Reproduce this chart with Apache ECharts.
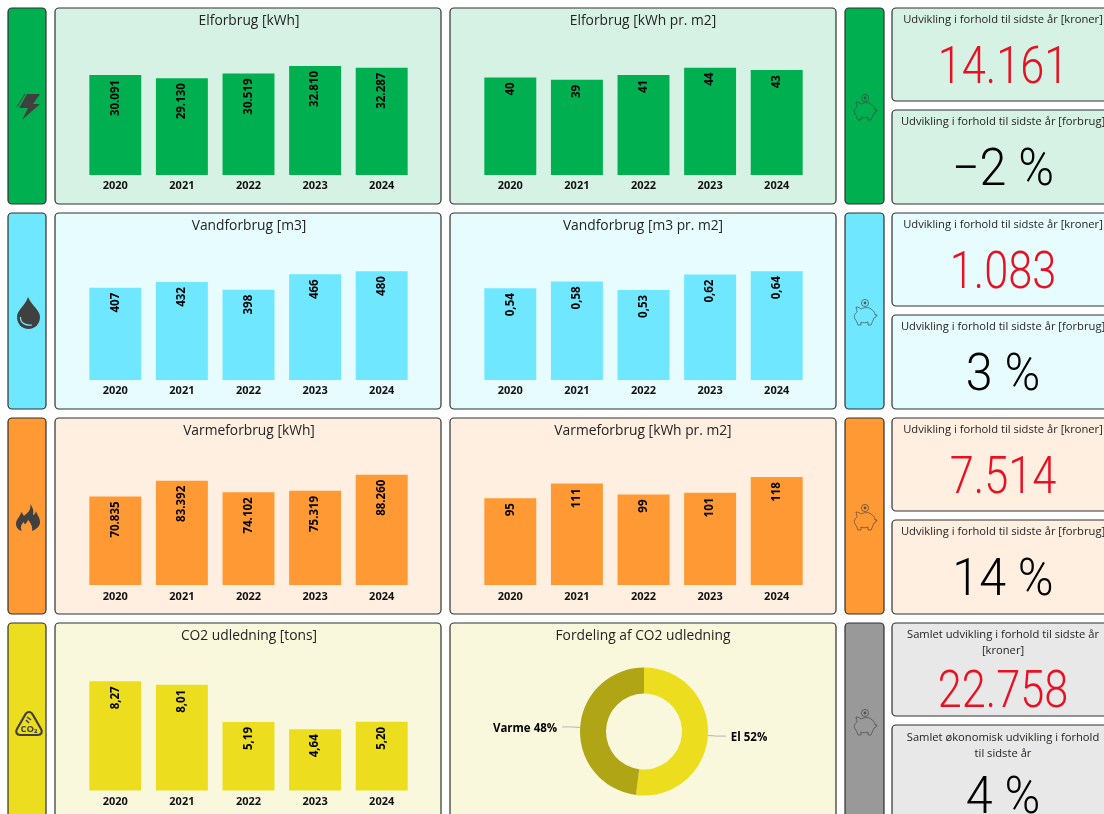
<!DOCTYPE html>
<html>
<head>
<meta charset="utf-8">
<title>Forbrug</title>
<style>
html, body { margin: 0; padding: 0; background: #fff; overflow: hidden; }
#main { width: 1104px; height: 814px; }
</style>
<script src="https://cdn.jsdelivr.net/npm/echarts@6/dist/echarts.min.js"></script>
</head>
<body>
<div id="main"></div>
<script>
// data
var years = ['2020', '2021', '2022', '2023', '2024'];
var elKwh = [30091, 29130, 30519, 32810, 32287];
var elM2 = [40, 39, 41, 44, 43];
var waterM3 = [407, 432, 398, 466, 480];
var waterM2 = [0.54, 0.58, 0.53, 0.62, 0.64];
var heatKwh = [70835, 83392, 74102, 75319, 88260];
var heatM2 = [95, 111, 99, 101, 118];
var co2Tons = [8.27, 8.01, 5.19, 4.64, 5.20];
var co2Names = ['El', 'Varme'];
var co2Share = [52, 48];

var thousands = function (v) { return String(v).replace(/\B(?=(\d{3})+$)/g, '.'); };
var decimals = function (v) { return v.toFixed(2).replace('.', ','); };

var FONT = '"Open Sans", "Noto Sans", sans-serif';
var BORDER = '#303030';
var ICON = '#404040';

var rows = [
  { top: 8, base: 175, gap: 5, color: '#00B050', bg: '#D6F2E5', kroner: '14.161', pct: '−2 %',
    left: { title: 'Elforbrug [kWh]', data: elKwh, max: 40000, h: 133, fmt: thousands },
    right: { title: 'Elforbrug [kWh pr. m2]', data: elM2, max: 50, h: 122, fmt: thousands } },
  { top: 213, base: 380, gap: 5, color: '#6FE7FF', bg: '#E7FCFF', kroner: '1.083', pct: '3 %',
    left: { title: 'Vandforbrug [m3]', data: waterM3, max: 600, h: 136, fmt: thousands },
    right: { title: 'Vandforbrug [m3 pr. m2]', data: waterM2, max: 0.8, h: 136, fmt: decimals } },
  { top: 418, base: 585, gap: 6, color: '#FF9933', bg: '#FFEFE0', kroner: '7.514', pct: '14 %',
    left: { title: 'Varmeforbrug [kWh]', data: heatKwh, max: 100000, h: 125, fmt: thousands },
    right: { title: 'Varmeforbrug [kWh pr. m2]', data: heatM2, max: 140, h: 128, fmt: thousands } },
  { top: 623, base: 790.5, gap: 6, color: '#ECDD1F', bg: '#F9F8DC', kroner: '22.758', pct: '4 %',
    left: { title: 'CO2 udledning [tons]', data: co2Tons, max: 10, h: 132, fmt: decimals },
    right: { title: 'Fordeling af CO2 udledning' } }
];

var graphics = [];
var grids = [], xAxes = [], yAxes = [], series = [];
var iconCount = 0;

function box(x, y, w, h, fill, stroke) {
  graphics.push({
    type: 'rect', shape: { x: x, y: y, width: w, height: h, r: 4 },
    style: { fill: fill, stroke: stroke || BORDER, lineWidth: 1.2 }
  });
}

function text(str, x, y, size, color) {
  graphics.push({
    type: 'text', x: x, y: y,
    style: { text: str, fill: color || '#252423', font: size + 'px ' + FONT, textAlign: 'center', textVerticalAlign: 'middle' }
  });
}

// the card numbers are a narrow light face, squeeze Roboto to get near it
function bigNumber(str, y, color, squeeze) {
  graphics.push({
    type: 'text', x: 1003, y: y, scaleX: squeeze,
    style: { text: str, fill: color, font: '300 51px Roboto', textAlign: 'center', textVerticalAlign: 'middle' }
  });
}

// graphic has no plain 'path' type, so each icon gets its own registered shape
function icon(path, x, y, fill, stroke, lw, opacity) {
  var name = 'icon' + (iconCount++);
  echarts.graphic.registerShape(name, echarts.graphic.extendPath(path));
  graphics.push({
    type: name, x: x, y: y,
    style: { fill: fill, stroke: stroke, lineWidth: lw || 0, opacity: opacity || 1 }
  });
}

function barPanel(p, left, base, color, gap) {
  var i = grids.length;
  grids.push({ left: left, width: 333, top: base - p.h, height: p.h });
  xAxes.push({
    type: 'category', gridIndex: i, data: years,
    axisLine: { show: false }, axisTick: { show: false },
    axisLabel: { margin: gap, color: '#111', fontFamily: FONT, fontWeight: 'bold', fontSize: 11 }
  });
  yAxes.push({ type: 'value', gridIndex: i, min: 0, max: p.max, show: false });
  series.push({
    type: 'bar', xAxisIndex: i, yAxisIndex: i, data: p.data, barCategoryGap: '22%',
    itemStyle: { color: color },
    label: {
      show: true, position: 'insideTop', rotate: 90, distance: 5, align: 'right', verticalAlign: 'middle',
      color: '#000', fontFamily: FONT, fontWeight: 'bold', fontSize: 11.5,
      formatter: function (o) { return p.fmt(o.value); }
    }
  });
}

rows.forEach(function (r, idx) {
  box(8, r.top, 38, 196, r.color);
  box(55, r.top, 386, 196, r.bg);
  box(450, r.top, 386, 196, r.bg);
  box(845, r.top, 39, 196, idx === 3 ? '#999999' : r.color);
  var cardBg = idx === 3 ? '#E8E8E8' : r.bg;
  box(892, r.top, 222, 93, cardBg);
  box(892, r.top + 102, 222, 94, cardBg);

  text(r.left.title, 249, r.top + 13, 13.8);
  text(r.right.title, 643, r.top + 13, 13.8);
  barPanel(r.left, 82, r.base, r.color, r.gap);
  if (r.right.data) barPanel(r.right, 477, r.base, r.color, r.gap);

  if (idx === 3) {
    text('Samlet udvikling i forhold til sidste år', 1003, r.top + 12, 11.2);
    text('[kroner]', 1003, r.top + 28, 11.2);
    text('Samlet økonomisk udvikling i forhold', 1003, r.top + 115, 11.2);
    text('til sidste år', 1003, r.top + 131, 11.2);
    bigNumber(r.kroner, r.top + 71, '#E81123', 0.85);
    bigNumber(r.pct, r.top + 177, '#000', 0.95);
  } else {
    text('Udvikling i forhold til sidste år [kroner]', 1003, r.top + 12, 11.2);
    text('Udvikling i forhold til sidste år [forbrug]', 1003, r.top + 114, 11.2);
    bigNumber(r.kroner, r.top + 62, '#E81123', 0.85);
    bigNumber(r.pct, r.top + 164, '#000', 0.95);
  }

  // piggy bank, outline only
  var py = r.top + 90;
  icon('M-10 16 C-12 12 -9 10 -8 9 C-8 7 -9 5 -9 4 C-7 4 -5 5 -4 6 C0 4 5 4 7 7 C9 8 10 10 10 12 L12 12 L11 14 L9 15 C8 17 7 20 6 22 L3 22 L3 19 C0 20 -2 20 -4 19 L-4 22 L-7 22 C-8 19 -9 17 -10 16 Z',
    865, py, 'none', ICON, 0.8, 0.8);
  graphics.push({ type: 'circle', shape: { cx: 865, cy: py, r: 3.6 }, style: { fill: 'none', stroke: ICON, lineWidth: 0.8, opacity: 0.8 } });
  graphics.push({ type: 'circle', shape: { cx: 865, cy: py, r: 1.4 }, style: { fill: ICON, opacity: 0.8 } });
});

// strip icons
icon('M27 94 L40 94 L33 104 L40 104 L22 120 L28 108 L19 108 Z', 0, 0, ICON);
icon('M25 94 L17 107', 0, 0, 'none', ICON, 1);
icon('M28 297 C32 306 40 310 40 317 C40 324 35 329 28.5 329 C22 329 17 324 17 317 C17 310 25 306 28 297 Z', 0, 0, ICON);
icon('M20.5 317 C20 323 26 326 32 325', 0, 0, 'none', '#6FE7FF', 1.2);
icon('M30 504 C32 510 27 513 24 516 C23 514 22 513 21 512 C21 516 16 519 16 524 C16 527 18 530 22 531 C20 528 21 524 24 522 C24 525 26 525 28 520 C30 522 33 526 32 531 C37 529 40 526 40 522 C40 517 37 515 36 511 C35 514 34 515 33 515 C34 511 33 507 30 504 Z', 0, 0, ICON);
icon('M29 712 C27 712 26 713 25 715 L17 729 C15 732 17 735 20 735 L38 735 C41 735 43 732 41 729 L33 715 C32 713 31 712 29 712 Z', 0, 0, 'none', ICON, 2.2);
icon('M27 717 L31 720 M26 720 L29 723', 0, 0, 'none', ICON, 1.5);
graphics.push({
  type: 'text', x: 29, y: 729,
  style: { text: 'CO₂', fill: ICON, font: 'bold 9.5px ' + FONT, textAlign: 'center', textVerticalAlign: 'middle' }
});

series.push({
  type: 'pie', center: [644, 731.5], radius: [38, 64], startAngle: 90, clockwise: true,
  data: co2Names.map(function (n, i) { return { name: n, value: co2Share[i] }; }),
  color: ['#ECDD1F', '#B0A515'],
  label: { color: '#000', fontFamily: FONT, fontWeight: 'bold', fontSize: 11.5, formatter: '{b} {c}%' },
  labelLine: { length: 9, length2: 9, lineStyle: { color: '#B5B5B5', width: 1 } },
  labelLayout: { dy: 2 }
});

var chart = echarts.init(document.getElementById('main'));
chart.setOption({
  animation: false,
  backgroundColor: '#fff',
  graphic: { elements: graphics },
  grid: grids,
  xAxis: xAxes,
  yAxis: yAxes,
  series: series
});
</script>
</body>
</html>
